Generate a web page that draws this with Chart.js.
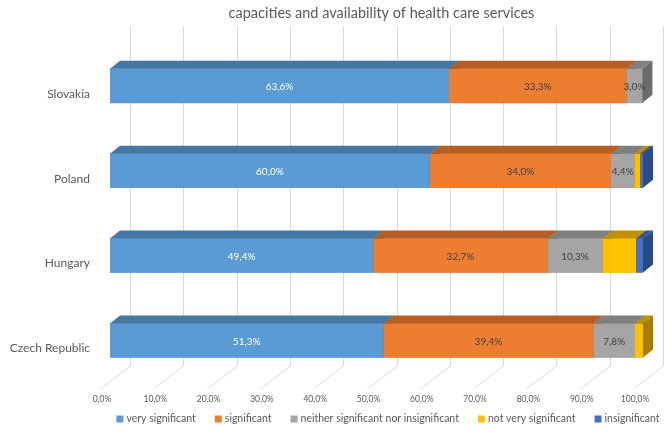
<!DOCTYPE html>
<html>
<head>
<meta charset="utf-8">
<script src="https://cdn.jsdelivr.net/npm/chart.js@4.4.1/dist/chart.umd.min.js"></script>
<style>
  html, body { margin: 0; padding: 0; background: #fff; }
  #wrap { width: 664px; height: 426px; }
</style>
</head>
<body>
<div id="wrap"><canvas id="chart"></canvas></div>
<script>
const countries = ['Slovakia', 'Poland', 'Hungary', 'Czech Republic'];
const verySignificant = [63.6, 60.0, 49.4, 51.3];
const significant = [33.3, 34.0, 32.7, 39.4];
const neither = [3.0, 4.4, 10.3, 7.8];
const notVery = [0, 1.1, 6.3, 1.5];
const insignificant = [0, 0.5, 1.3, 0];
const seriesNames = ['very significant', 'significant', 'neither significant nor insignificant', 'not very significant', 'insignificant'];

const fronts = ['#5B9BD5', '#ED7D31', '#A5A5A5', '#FFC000', '#4472C4'];
const tops = ['#4677A3', '#B75E25', '#7F7F7F', '#BF9000', '#30559A'];
const sides = ['#3E6990', '#A3531F', '#6B6B6B', '#A67D00', '#2A4B88'];
const labelColors = ['#FFFFFF', '#404040', '#404040'];

const FONT = 'Lato, "Open Sans", sans-serif';
const fmt = v => v.toFixed(1).replace('.', ',') + '%';

// depth of the bars and of the floor / back wall
const bdx = 10, bdy = 8;
const wallDx = 20, floorDx = -10;

const threeD = {
  id: 'threeD',
  afterLayout(chart) {
    // excel centres the title over the plot, not the whole canvas
    const t = chart.titleBlock;
    t.left += 60; t.right += 60;
  },
  beforeDatasetsDraw(chart) {
    const ctx = chart.ctx, x = chart.scales.x;
    ctx.save();
    ctx.strokeStyle = '#D9D9D9';
    ctx.lineWidth = 1;
    const wallTop = 26, wallBottom = 366, floorFront = 389;
    for (let v = 0; v <= 100; v += 10) {
      const px = Math.round(x.getPixelForValue(v)) + 0.5;
      ctx.beginPath();
      ctx.moveTo(px + wallDx, wallTop);
      ctx.lineTo(px + wallDx, wallBottom);
      ctx.lineTo(px + floorDx, floorFront);
      ctx.stroke();
    }
    ctx.restore();
  },
  afterDatasetsDraw(chart) {
    const ctx = chart.ctx;
    const metas = chart.data.datasets.map((d, i) => chart.getDatasetMeta(i));
    ctx.save();
    countries.forEach((c, j) => {
      metas.forEach((m, i) => {
        const el = m.data[j];
        const { x, y, base, height } = el.getProps(['x', 'y', 'base', 'height'], true);
        if (x - base < 0.01) return;
        const top = y - height / 2, bot = y + height / 2;
        ctx.fillStyle = fronts[i];
        ctx.fillRect(base, top, x - base, height);
        ctx.fillStyle = tops[i];
        ctx.beginPath();
        ctx.moveTo(base, top);
        ctx.lineTo(base + bdx, top - bdy);
        ctx.lineTo(x + bdx, top - bdy);
        ctx.lineTo(x, top);
        ctx.closePath();
        ctx.fill();
        ctx.fillStyle = sides[i];
        ctx.beginPath();
        ctx.moveTo(x, top);
        ctx.lineTo(x + bdx, top - bdy);
        ctx.lineTo(x + bdx, bot - bdy);
        ctx.lineTo(x, bot);
        ctx.closePath();
        ctx.fill();
      });
    });
    ctx.font = '10px ' + FONT;
    ctx.textAlign = 'center';
    ctx.textBaseline = 'middle';
    countries.forEach((c, j) => {
      metas.slice(0, 3).forEach((m, i) => {
        const el = m.data[j];
        const { x, y, base } = el.getProps(['x', 'y', 'base'], true);
        const v = chart.data.datasets[i].data[j];
        if (!v) return;
        ctx.fillStyle = labelColors[i];
        ctx.fillText(fmt(v), (x + base) / 2, y + 1);
      });
    });
    ctx.restore();
  },
  afterDraw(chart) {
    // legend, centred under the plot like the excel original
    const ctx = chart.ctx;
    ctx.save();
    ctx.font = '10.5px ' + FONT;
    ctx.textBaseline = 'middle';
    const box = 7, gapText = 3, gapItem = 19, cy = 419;
    const widths = seriesNames.map(n => box + gapText + ctx.measureText(n).width);
    const total = widths.reduce((a, b) => a + b, 0) + gapItem * (widths.length - 1);
    let x0 = 388 - total / 2;
    seriesNames.forEach((n, i) => {
      ctx.fillStyle = fronts[i];
      ctx.fillRect(x0, cy - box / 2, box, box);
      ctx.fillStyle = '#595959';
      ctx.fillText(n, x0 + box + gapText, cy);
      x0 += widths[i] + gapItem;
    });
    ctx.restore();
  }
};

const seriesData = [verySignificant, significant, neither, notVery, insignificant];

new Chart(document.getElementById('chart'), {
  type: 'bar',
  data: {
    labels: countries,
    datasets: seriesData.map((d, i) => ({
      label: seriesNames[i],
      data: d,
      backgroundColor: fronts[i],
      borderWidth: 0,
      barThickness: 34
    }))
  },
  options: {
    indexAxis: 'y',
    responsive: true,
    maintainAspectRatio: false,
    animation: false,
    layout: { padding: { top: 5, left: 0, right: 21, bottom: 11 } },
    scales: {
      x: {
        stacked: true,
        min: 0,
        max: 100,
        grid: { display: false, drawTicks: false },
        border: { display: false },
        afterFit: s => { s.paddingLeft = 0; s.paddingRight = 0; },
        ticks: {
          stepSize: 10,
          padding: 11,
          labelOffset: -8,
          color: '#595959',
          font: { family: FONT, size: 8.5 },
          callback: v => fmt(v)
        }
      },
      y: {
        stacked: true,
        grid: { display: false, drawTicks: false },
        border: { display: false },
        afterFit: s => { s.width = 110; },
        ticks: {
          padding: 20,
          labelOffset: 8,
          color: '#595959',
          font: { family: FONT, size: 12 }
        }
      }
    },
    plugins: {
      title: {
        display: true,
        text: 'capacities and availability of health care services',
        color: '#595959',
        font: { family: FONT, size: 14.5, weight: 'normal' },
        padding: { top: 0, bottom: 21 }
      },
      legend: { display: false },
      tooltip: { enabled: false }
    }
  },
  plugins: [threeD]
});
</script>
</body>
</html>
